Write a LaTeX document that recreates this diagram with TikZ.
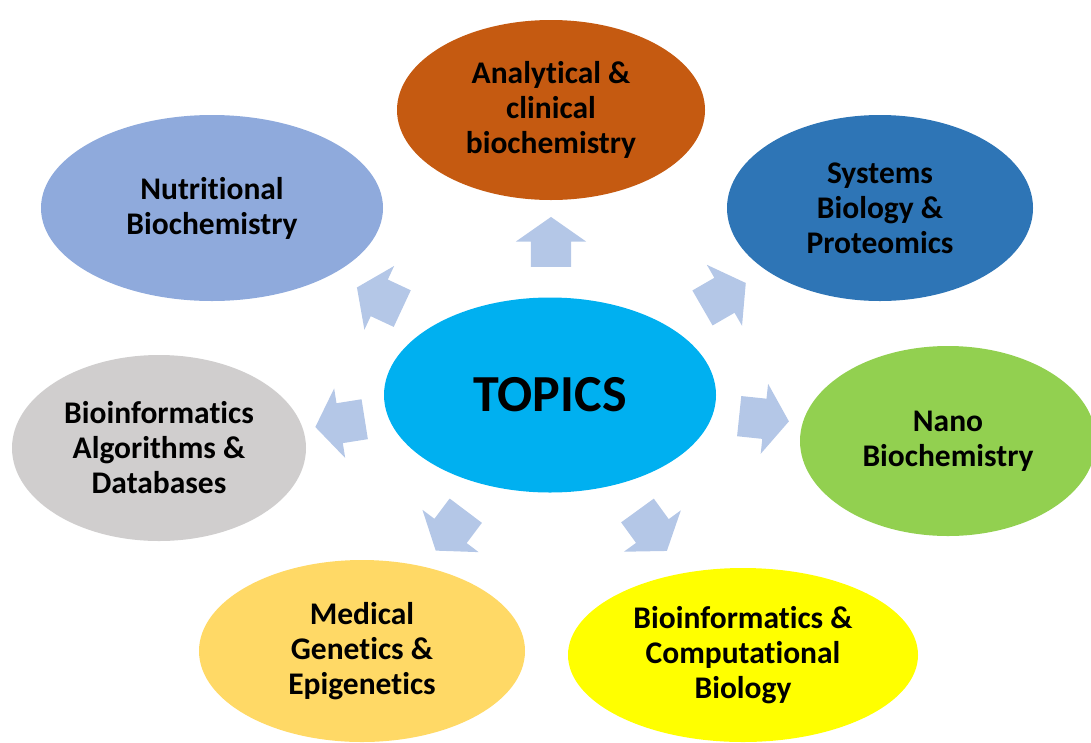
\documentclass[tikz,border=0pt]{standalone}
\usepackage{fontspec}
\setmainfont{Carlito}[Ligatures=NoCommon]
\usepackage{tikz}
\usetikzlibrary{shapes.geometric}
\usetikzlibrary{shapes.arrows}

\definecolor{topiccyan}{HTML}{00B0F0}
\definecolor{analyticorange}{HTML}{C55A11}
\definecolor{nutriblue}{HTML}{8FAADC}
\definecolor{systemsblue}{HTML}{2E75B6}
\definecolor{nanogreen}{HTML}{92D050}
\definecolor{algogray}{HTML}{D0CECE}
\definecolor{medicalgold}{HTML}{FFD966}
\definecolor{compyellow}{HTML}{FFFF00}
\definecolor{arrowblue}{HTML}{B4C7E7}

\tikzset{
    topicbox/.style={ellipse, inner sep=0pt, align=center,
        font=\bfseries\fontsize{31.5}{35}\selectfont},
    blockarrow/.style={single arrow, fill=arrowblue, inner xsep=0pt, inner ysep=20pt,
        minimum height=50pt, single arrow head extend=15pt, single arrow tip angle=110}
}

\begin{document}
\begin{tikzpicture}[x=1pt, y=-1pt]
                    \useasboundingbox (0,0) rectangle (1091,742);
                    \clip (0,0) rectangle (1091,742);

                    % centre
                    \node[topicbox, fill=topiccyan, minimum width=332pt, minimum height=195pt,
                          font=\bfseries\fontsize{52}{54}\selectfont] (topics) at (550,395) {TOPICS};

                    % the seven fields round it
                    \node[topicbox, fill=analyticorange, minimum width=308pt, minimum height=180pt] (analytical) at (551,110) {Analytical \&\\clinical\\biochemistry};
                    \node[topicbox, fill=nutriblue, minimum width=342pt, minimum height=186pt] (nutritional) at (212,208) {Nutritional\\Biochemistry};
                    \node[topicbox, fill=systemsblue, minimum width=306pt, minimum height=186pt] (systems) at (880,208) {Systems\\Biology \&\\Proteomics};
                    \node[topicbox, fill=nanogreen, minimum width=296pt, minimum height=190pt] (nano) at (948,441) {Nano\\Biochemistry};
                    \node[topicbox, fill=algogray, minimum width=294pt, minimum height=186pt] (algorithms) at (159,448) {Bioinformatics\\Algorithms \&\\Databases};
                    \node[topicbox, fill=medicalgold, minimum width=326pt, minimum height=182pt] (medical) at (362,651) {Medical\\Genetics \&\\Epigenetics};
                    \node[topicbox, fill=compyellow, minimum width=350pt, minimum height=174pt] (computational) at (743,655) {Bioinformatics \&\\Computational\\Biology};

                    % block arrows pointing outwards
                    \node[blockarrow, rotate=90]  (toanalytical)    at (551,249) {};
                    \node[blockarrow, rotate=155] (tonutritional)   at (386,301) {};
                    \node[blockarrow, rotate=30]  (tosystems)       at (718,299) {};
                    \node[blockarrow, rotate=189] (toalgorithms)    at (347,422) {};
                    \node[blockarrow, rotate=-6]  (tonano)          at (757,418) {};
                    \node[blockarrow, rotate=233] (tomedical)       at (455,525) {};
                    \node[blockarrow, rotate=306] (tocomputational) at (648,525) {};
                \end{tikzpicture}
\end{document}
